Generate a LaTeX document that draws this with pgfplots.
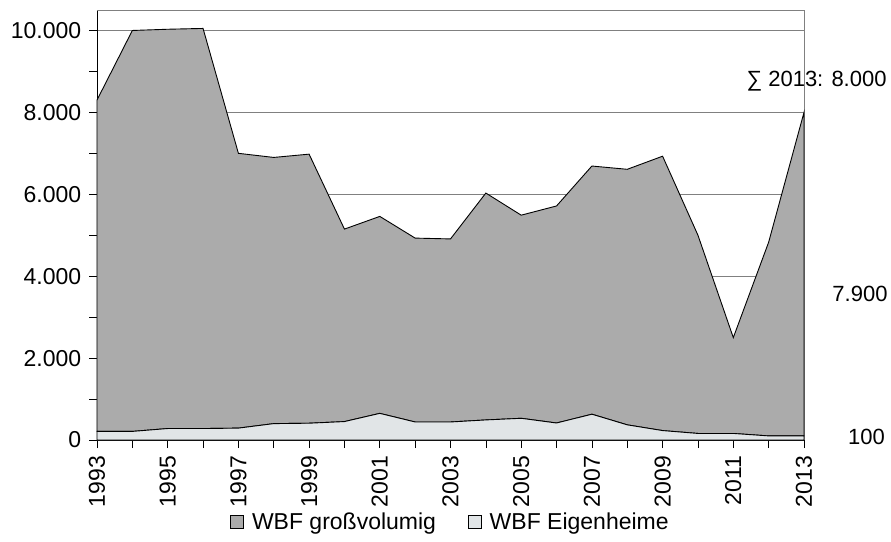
\documentclass[border=0pt]{standalone}
\usepackage{pgfplots}
\pgfplotsset{compat=1.18}
\usepackage{fontspec}
\setmainfont{Liberation Sans}
\definecolor{grossc}{HTML}{ABABAB}
\definecolor{eigenc}{HTML}{E1E5E7}
\definecolor{gridc}{HTML}{808080}
\begin{document}
\fontsize{23bp}{27bp}\selectfont
\begin{tikzpicture}
\path[use as bounding box] (-97bp,-102bp) rectangle (794bp,440bp);
\begin{axis}[
  scale only axis,
  width=707bp, height=430bp,
  xmin=1993, xmax=2013, ymin=0, ymax=10500,
  axis x line*=bottom, axis y line*=left,
  axis line style={black, line width=0.8pt, -},
  stack plots=y,
  clip=false,
  scaled y ticks=false,
  scaled x ticks=false,
  xtick={1993,1995,...,2013},
  minor xtick={1994,1996,...,2012},
  ytick={0,2000,...,10000},
  minor ytick={1000,3000,...,9000},
  ymajorgrids,
  major grid style={gridc, line width=0.6pt},
  tick align=outside,
  major tick length=8bp, minor tick length=8bp,
  tick style={black, line width=0.6pt},
  /pgf/number format/assume math mode=true,
  x tick label style={rotate=90, anchor=east, font=\fontsize{23bp}{27bp}\selectfont},
  y tick label style={font=\fontsize{23bp}{27bp}\selectfont},
  xticklabel={\pgfmathprintnumber[1000 sep={}]{\tick}},
  yticklabel={\pgfmathprintnumber[1000 sep={.}]{\tick}},
  legend style={at={(0.5,-0.192)}, anchor=center, draw=none, fill=none,
    /tikz/every even column/.append style={column sep=30bp},
    font=\fontsize{23bp}{27bp}\selectfont},
  legend columns=2,
  reverse legend,
  legend image code/.code={\draw[#1, draw=black, line width=0.5pt] (0bp,-6bp) rectangle (13bp,7bp); \path (19bp,0bp);},
]
\addplot[fill=eigenc, draw=black, line width=0.9pt] coordinates {
(1993,210) (1994,210) (1995,280) (1996,280) (1997,290) (1998,400) (1999,410)
(2000,450) (2001,650) (2002,440) (2003,440) (2004,490) (2005,530) (2006,415)
(2007,630) (2008,370) (2009,230) (2010,160) (2011,160) (2012,100) (2013,100)
} \closedcycle;
\addlegendentry{WBF Eigenheime}
\addplot[fill=grossc, draw=black, line width=0.9pt] coordinates {
(1993,8090) (1994,9790) (1995,9750) (1996,9770) (1997,6710) (1998,6500) (1999,6570)
(2000,4700) (2001,4810) (2002,4490) (2003,4470) (2004,5540) (2005,4960) (2006,5300)
(2007,6060) (2008,6240) (2009,6700) (2010,4840) (2011,2340) (2012,4730) (2013,7900)
} \closedcycle;
\addlegendentry{WBF großvolumig}
\draw[gridc, line width=0.6pt] (axis description cs:0,1) -- (axis description cs:1,1) -- (axis description cs:1,0);
\node[fill=white, anchor=west, inner sep=1bp, font=\fontsize{22bp}{26bp}\selectfont] at (axis description cs:0.917,0.835) {∑ 2013: 8.000};
\node[anchor=west, inner sep=0pt, font=\fontsize{22bp}{26bp}\selectfont] at (axis description cs:1.040,0.340) {7.900};
\node[anchor=west, inner sep=0pt, font=\fontsize{22bp}{26bp}\selectfont] at (axis description cs:1.062,0.008) {100};
\end{axis}
\end{tikzpicture}
\end{document}
